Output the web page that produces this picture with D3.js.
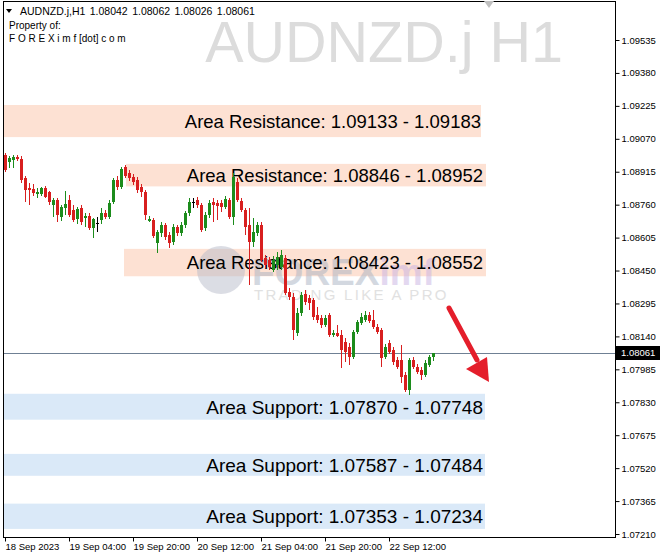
<!DOCTYPE html>
<html><head><meta charset="utf-8">
<script src="https://cdn.jsdelivr.net/npm/d3@7"></script>
<style>html,body{margin:0;padding:0;background:#fff;} svg{display:block;}</style>
</head><body><svg id="c" width="664" height="560"></svg>
<script>
// ---- DATA ----
const symbolTitle = "AUDNZD.j H1";
const headerLine = "AUDNZD.j,H1  1.08042 1.08062 1.08026 1.08061";
const headerLine2 = "Property of:";
const headerLine3 = "F O R E X i m f [dot] c o m";
const currentPrice = 1.08061;

const opens = [1.08994,1.08961,1.08970,1.08984,1.08975,1.08885,1.08838,1.08834,1.08810,1.08810,
1.08838,1.08820,1.08758,1.08782,1.08702,1.08744,1.08782,1.08735,1.08693,1.08744,
1.08697,1.08707,1.08650,1.08674,1.08688,1.08721,1.08702,1.08773,1.08876,1.08843,
1.08937,1.08909,1.08890,1.08876,1.08843,1.08820,1.08683,1.08688,1.08580,1.08627,
1.08664,1.08617,1.08585,1.08655,1.08627,1.08664,1.08721,1.08773,1.08782,1.08758,
1.08650,1.08711,1.08773,1.08768,1.08768,1.08749,1.08782,1.08702,1.08867,1.08777,
1.08735,1.08664,1.08585,1.08627,1.08664,1.08509,1.08500,1.08453,1.08476,1.08467,
1.08509,1.08349,1.08325,1.08156,1.08250,1.08340,1.08321,1.08311,1.08241,1.08226,
1.08194,1.08241,1.08147,1.08156,1.08147,1.08114,1.08090,1.08043,1.08161,1.08203,
1.08217,1.08241,1.08217,1.08184,1.08170,1.08043,1.08109,1.08076,1.08029,1.08029,
1.07958,1.07888,1.08029,1.07996,1.07982,1.07958,1.08005,1.08042];
const highs = [1.09003,1.08989,1.08994,1.08994,1.08989,1.08895,1.08862,1.08857,1.08838,1.08843,
1.08848,1.08824,1.08791,1.08791,1.08758,1.08824,1.08806,1.08758,1.08749,1.08758,
1.08721,1.08721,1.08697,1.08702,1.08744,1.08735,1.08782,1.08885,1.08895,1.08937,
1.08947,1.08923,1.08904,1.08890,1.08857,1.08829,1.08707,1.08697,1.08641,1.08679,
1.08674,1.08632,1.08669,1.08664,1.08679,1.08730,1.08791,1.08791,1.08796,1.08768,
1.08726,1.08782,1.08791,1.08782,1.08782,1.08801,1.08791,1.08909,1.08885,1.08791,
1.08744,1.08744,1.08697,1.08679,1.08679,1.08523,1.08514,1.08519,1.08538,1.08547,
1.08523,1.08368,1.08344,1.08274,1.08349,1.08358,1.08335,1.08321,1.08278,1.08241,
1.08241,1.08250,1.08170,1.08194,1.08170,1.08132,1.08109,1.08170,1.08217,1.08250,
1.08259,1.08255,1.08264,1.08198,1.08179,1.08104,1.08123,1.08090,1.08043,1.08100,
1.07972,1.08038,1.08043,1.08010,1.07996,1.08029,1.08052,1.08062];
const lows = [1.08914,1.08932,1.08932,1.08965,1.08862,1.08773,1.08758,1.08801,1.08791,1.08801,
1.08791,1.08758,1.08702,1.08679,1.08683,1.08711,1.08702,1.08679,1.08669,1.08664,
1.08655,1.08641,1.08603,1.08632,1.08669,1.08693,1.08693,1.08763,1.08829,1.08834,
1.08885,1.08871,1.08853,1.08815,1.08796,1.08688,1.08679,1.08603,1.08533,1.08608,
1.08594,1.08556,1.08570,1.08613,1.08613,1.08650,1.08707,1.08744,1.08744,1.08632,
1.08636,1.08697,1.08679,1.08688,1.08726,1.08740,1.08693,1.08664,1.08773,1.08726,
1.08617,1.08382,1.08561,1.08613,1.08491,1.08462,1.08453,1.08444,1.08453,1.08453,
1.08335,1.08311,1.08123,1.08142,1.08236,1.08288,1.08264,1.08217,1.08203,1.08179,
1.08184,1.08137,1.08137,1.08137,1.07991,1.08019,1.08005,1.08033,1.08151,1.08194,
1.08208,1.08203,1.08175,1.08151,1.07996,1.08033,1.08057,1.08005,1.07986,1.07921,
1.07878,1.07864,1.07986,1.07963,1.07935,1.07949,1.07996,1.08026];
const closes = [1.08923,1.08979,1.08984,1.08975,1.08876,1.08829,1.08829,1.08815,1.08820,1.08838,
1.08796,1.08773,1.08782,1.08711,1.08749,1.08763,1.08711,1.08688,1.08740,1.08679,
1.08707,1.08650,1.08693,1.08674,1.08721,1.08702,1.08768,1.08876,1.08843,1.08928,
1.08895,1.08885,1.08867,1.08829,1.08820,1.08711,1.08693,1.08613,1.08632,1.08664,
1.08608,1.08580,1.08655,1.08627,1.08664,1.08721,1.08773,1.08773,1.08758,1.08641,
1.08711,1.08768,1.08758,1.08754,1.08749,1.08787,1.08702,1.08890,1.08782,1.08735,
1.08655,1.08585,1.08632,1.08664,1.08500,1.08476,1.08467,1.08500,1.08514,1.08523,
1.08344,1.08325,1.08170,1.08250,1.08335,1.08302,1.08297,1.08231,1.08217,1.08194,
1.08226,1.08147,1.08156,1.08142,1.08076,1.08066,1.08043,1.08161,1.08208,1.08231,
1.08241,1.08212,1.08184,1.08161,1.08038,1.08090,1.08066,1.08019,1.07996,1.07949,
1.07888,1.08029,1.07996,1.07972,1.07958,1.08015,1.08043,1.08061];

const yTickValues = [1.09535,1.09380,1.09225,1.09070,1.08915,1.08760,1.08605,1.08450,
1.08295,1.08140,1.07985,1.07830,1.07675,1.07520,1.07365,1.07210];
const xTickBars = [0,16,32,48,64,80,96];
const xTickLabels = ["18 Sep 2023","19 Sep 04:00","19 Sep 20:00","20 Sep 12:00","21 Sep 04:00","21 Sep 20:00","22 Sep 12:00"];

const zoneLabels = ["Area Resistance: 1.09133 - 1.09183","Area Resistance: 1.08846 - 1.08952","Area Resistance: 1.08423 - 1.08552",
"Area Support: 1.07870 - 1.07748","Area Support: 1.07587 - 1.07484","Area Support: 1.07353 - 1.07234"];
const zoneTops = [1.09229,1.08952,1.08552,1.07870,1.07587,1.07353];
const zoneBottoms = [1.09078,1.08846,1.08423,1.07748,1.07484,1.07234];
const zoneStartBar = [-0.5,30.25,29.75,-0.5,-0.5,-0.5];
const zoneEndBar = [119,120.25,120.25,120,120,120];
const zoneKinds = ["res","res","res","sup","sup","sup"];

// ---- CHART ----
const svg = d3.select("#c");
const F = "'Liberation Sans', Arial, sans-serif";
const frame = {l:3.5, t:1.5, r:615.5, b:537.5};
const x = d3.scaleLinear().domain([0,107]).range([5,433]);
const y = d3.scaleLinear().domain([1.07210,1.09535]).range([534,40]);

svg.append("rect").attr("width",664).attr("height",560).attr("fill","#fff");

// zones
const zones = zoneLabels.map((t,i)=>({t,top:zoneTops[i],bot:zoneBottoms[i],s:zoneStartBar[i],e:zoneEndBar[i],k:zoneKinds[i]}));
svg.append("g").selectAll("rect").data(zones).join("rect")
  .attr("x",d=>Math.max(4,x(d.s))).attr("width",d=>x(d.e)-Math.max(4,x(d.s)))
  .attr("y",d=>y(d.top)).attr("height",d=>y(d.bot)-y(d.top))
  .attr("fill",d=>d.k==="res"?"#fde1d3":"#dae9f8");

// big title watermark
svg.append("text").attr("x",563).attr("y",62).attr("text-anchor","end")
  .attr("font-family",F).attr("font-size",57.5).attr("fill","#dcdcdc").text(symbolTitle);

// logo watermark
const wm = svg.append("g").attr("opacity",0.5);
wm.append("circle").attr("cx",221).attr("cy",270).attr("r",24).attr("fill","#b9bccb");
wm.append("text").attr("x",252).attr("y",285).attr("font-family",F).attr("font-weight","bold")
  .attr("font-size",37).attr("fill","#a9b3c3").text("FOREX")
  .append("tspan").attr("fill","#c9b3e3").text("imf");
wm.append("text").attr("x",254).attr("y",300).attr("font-family",F).attr("font-size",15)
  .attr("letter-spacing",2.3).attr("fill","#c4c4c4").text("TRADING LIKE A PRO");

// zone labels
svg.append("g").selectAll("text").data(zones).join("text")
  .attr("x",d=>Math.min(x(d.e),483)).attr("y",d=>(y(d.top)+y(d.bot))/2).attr("dy","0.36em")
  .attr("text-anchor","end").attr("font-family",F)
  .attr("font-size",d=>d.k==="res"?18.5:19).attr("fill","#000")
  .text(d=>d.t);

// current price line
svg.append("line").attr("x1",frame.l).attr("x2",frame.r)
  .attr("y1",Math.round(y(currentPrice))+0.5).attr("y2",Math.round(y(currentPrice))+0.5)
  .attr("stroke","#6f8094").attr("stroke-width",1);

// candles
const bars = opens.map((o,i)=>({i,o,h:highs[i],l:lows[i],c:closes[i]}));
const col = d=> d.c>d.o ? "#1c8c1c" : (d.c<d.o ? "#d81f1f" : "#000");
const cg = svg.append("g").attr("shape-rendering","crispEdges");
cg.selectAll("line").data(bars).join("line")
  .attr("x1",d=>Math.round(x(d.i))+0.5).attr("x2",d=>Math.round(x(d.i))+0.5)
  .attr("y1",d=>y(d.h)).attr("y2",d=>y(d.l)).attr("stroke",col).attr("stroke-width",1);
cg.selectAll("rect").data(bars).join("rect")
  .attr("x",d=>Math.round(x(d.i))-1).attr("width",3)
  .attr("y",d=>y(Math.max(d.o,d.c))).attr("height",d=>Math.max(1,y(Math.min(d.o,d.c))-y(Math.max(d.o,d.c))))
  .attr("fill",col);

// arrow
const ar = svg.append("g");
ar.append("line").attr("x1",449).attr("y1",308).attr("x2",477).attr("y2",360)
  .attr("stroke","#e41e2b").attr("stroke-width",5).attr("stroke-linecap","round");
ar.append("polygon").attr("points","489,382 466,369 487,357").attr("fill","#e41e2b");

// frame
svg.append("rect").attr("x",frame.l).attr("y",frame.t).attr("width",frame.r-frame.l).attr("height",frame.b-frame.t)
  .attr("fill","none").attr("stroke","#000").attr("stroke-width",1);

// y axis
const yAxis = d3.axisRight(y).tickValues(yTickValues).tickFormat(d3.format(".5f")).tickSize(4).tickPadding(2);
const yg = svg.append("g").attr("transform",`translate(${frame.r},0)`).call(yAxis);
yg.select(".domain").remove();
yg.selectAll("text").attr("font-family",F).attr("font-size",9.5).attr("fill","#000");
yg.selectAll("line").attr("stroke","#000");

// current price label
const cy = Math.round(y(currentPrice));
svg.append("rect").attr("x",616).attr("y",cy-7).attr("width",44).attr("height",14).attr("fill","#000");
svg.append("text").attr("x",621).attr("y",cy).attr("dy","0.35em").attr("font-family",F)
  .attr("font-size",9.5).attr("fill","#fff").text(d3.format(".5f")(currentPrice));

// x axis
const xAxis = d3.axisBottom(x).tickValues(xTickBars).tickFormat((d,i)=>xTickLabels[i]).tickSize(4).tickPadding(2);
const xg = svg.append("g").attr("transform",`translate(0,${frame.b})`).call(xAxis);
xg.select(".domain").remove();
xg.selectAll("text").attr("text-anchor","start").attr("font-family",F).attr("font-size",9.5).attr("fill","#000");
xg.selectAll("line").attr("stroke","#000");

// header
svg.append("polygon").attr("points","6,9 12,9 9,13").attr("fill","#000");
svg.append("text").attr("x",20).attr("y",15).attr("font-family",F).attr("font-size",10.5)
  .attr("word-spacing",1.5).attr("fill","#000").text(headerLine);
svg.append("text").attr("x",9).attr("y",29).attr("font-family",F).attr("font-size",10).attr("fill","#000").text(headerLine2);
svg.append("text").attr("x",9).attr("y",42).attr("font-family",F).attr("font-size",10).attr("fill","#000").text(headerLine3);
// top marker
svg.append("polygon").attr("points","484,1 494,1 489,8").attr("fill","#c0c0c0");
</script></body></html>
